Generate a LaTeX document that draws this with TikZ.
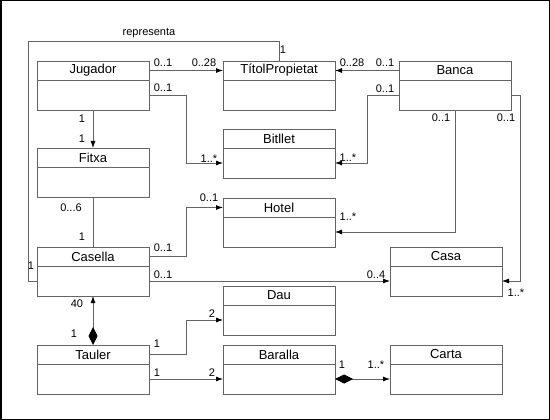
\documentclass[tikz,border=0pt]{standalone}
\usepackage{fontspec}
\setmainfont{Liberation Sans}
\usetikzlibrary{arrows.meta,positioning}
\definecolor{lgray}{RGB}{100,100,100}
\tikzset{
  x=1pt, y=-1pt,
  ctitle/.style={draw=lgray, line width=0.8pt, minimum width=112pt, minimum height=19pt,
    inner sep=0pt, outer sep=0pt, font=\fontsize{13}{15}\selectfont},
  cbody/.style={draw=lgray, line width=0.8pt, minimum width=112pt, minimum height=30pt,
    inner sep=0pt, outer sep=0pt},
  assoc/.style={draw=lgray, line width=0.8pt},
  nav/.style={assoc, -{Latex[length=7pt,width=5pt,color=black]}},
  comp/.style={assoc, {Diamond[length=18pt,width=9pt,color=black,fill=black]}-{Latex[length=7pt,width=5pt,color=black]}},
  lbl/.style={inner sep=0pt, font=\fontsize{11}{13}\selectfont}
}
\newcommand{\umlclass}[4]{%
  \node[ctitle, anchor=north west] (#1-t) at (#2,#3) {#4};
  \node[cbody, anchor=north] (#1-b) at (#1-t.south) {};
}
\begin{document}
\begin{tikzpicture}
\useasboundingbox (0,0) rectangle (550,420);
\draw[black, line width=1.5pt] (0.75,0.75) rectangle (549.25,419.25);

\umlclass{Jugador}{37}{61}{Jugador}
\umlclass{Titol}{223}{61}{TítolPropietat}
\umlclass{Banca}{399}{61}{Banca}
\umlclass{Bitllet}{223}{129}{Bitllet}
\umlclass{Fitxa}{37}{148}{Fitxa}
\umlclass{Hotel}{223}{198}{Hotel}
\umlclass{Casella}{37}{247}{Casella}
\umlclass{Casa}{390}{247}{Casa}
\umlclass{Dau}{223}{286}{Dau}
\umlclass{Tauler}{37}{345}{Tauler}
\umlclass{Baralla}{223}{345}{Baralla}
\umlclass{Carta}{390}{345}{Carta}

% representa
\draw[assoc] (Casella-b.west) -- ++(-9,0) |- ([yshift=20pt]Titol-t.north) -- (Titol-t.north);
\node[lbl] (lrep) at (149,33) {representa};
\node[lbl] (lr1) at (283,50) {1};
\node[lbl] (lr2) at (31,266) {1};

% Jugador -> Titol
\draw[nav] (Jugador-t.east) -- (Titol-t.west);
\node[lbl] at (163,63) {0..1};
\node[lbl] at (204,63) {0..28};

% Jugador -> Bitllet
\draw[nav] (Jugador-b.east) -- ++(37,0) |- (Bitllet-b.west);
\node[lbl] at (163,88) {0..1};
\node[lbl] at (209,159) {1..*};

% Banca -> Titol
\draw[nav] (Banca-t.west) -- (Titol-t.east);
\node[lbl] at (352,63) {0..28};
\node[lbl] at (385,63) {0..1};

% Banca -> Bitllet
\draw[nav] (Banca-b.west) -- ++(-32,0) |- (Bitllet-b.east);
\node[lbl] at (385,89) {0..1};
\node[lbl] at (348,158) {1..*};

% Banca -> Hotel
\draw[nav] (Banca-b.south) |- (Hotel-b.east);
\node[lbl] at (441,118) {0..1};
\node[lbl] at (348,217) {1..*};

% Banca -> Casa
\draw[nav] (Banca-b.east) -- ++(9,0) |- (Casa-b.east);
\node[lbl] at (506,118) {0..1};
\node[lbl] at (516,293) {1..*};

% Jugador -> Fitxa
\draw[nav] (Jugador-b.south) -- (Fitxa-t.north);
\node[lbl] at (82,119) {1};
\node[lbl] at (82,139) {1};

% Fitxa - Casella
\draw[assoc] (Fitxa-b.south) -- (Casella-t.north);
\node[lbl] at (71,208) {0...6};
\node[lbl] at (82,237) {1};

% Casella -> Hotel
\draw[nav] (Casella-t.east) -- ++(37,0) |- (Hotel-t.west);
\node[lbl] at (163,248) {0..1};
\node[lbl] at (209,198) {0..1};

% Casella -> Casa
\draw[nav] (Casella-b.east) -- (Casa-b.west);
\node[lbl] at (163,275) {0..1};
\node[lbl] at (376,275) {0..4};

% Tauler <>-> Casella
\draw[comp] (Tauler-t.north) -- (Casella-b.south);
\node[lbl] at (77,304) {40};
\node[lbl] at (74,334) {1};

% Tauler -> Dau
\draw[nav] (Tauler-t.east) -- ++(37,0) |- (Dau-b.west);
\node[lbl] at (157,344) {1};
\node[lbl] at (212,314) {2};

% Tauler -> Baralla
\draw[nav] (Tauler-b.east) -- (Baralla-b.west);
\node[lbl] at (157,373) {1};
\node[lbl] at (212,373) {2};

% Baralla <>-> Carta
\draw[comp] (Baralla-b.east) -- (Carta-b.west);
\node[lbl] at (342,365) {1};
\node[lbl] at (376,365) {1..*};
\end{tikzpicture}
\end{document}
